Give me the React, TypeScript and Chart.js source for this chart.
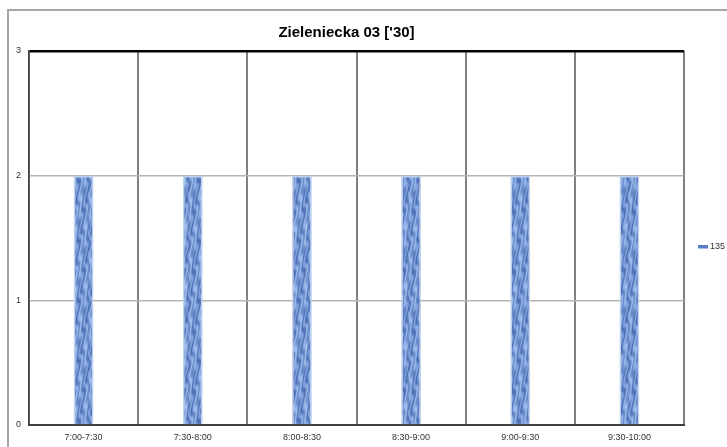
import React, { useEffect, useRef } from "react";
import { Chart, registerables } from "chart.js";

Chart.register(...registerables);

const categories = ["7:00-7:30", "7:30-8:00", "8:00-8:30", "8:30-9:00", "9:00-9:30", "9:30-10:00"];
const seriesLabel = "135";
const seriesValues = [2, 2, 2, 2, 2, 2];
const yTicks = [0, 1, 2, 3];
const chartTitle = "Zieleniecka 03 ['30]";

const FONT = "'Liberation Sans', Arial, sans-serif";

function makePattern(ctx: CanvasRenderingContext2D): CanvasPattern | string {
  const w = 20;
  const h = 60;
  const off = document.createElement("canvas");
  off.width = w;
  off.height = h;
  const octx = off.getContext("2d");
  if (!octx) return "#6b8fd0";
  const img = octx.createImageData(w, h);
  for (let y = 0; y < h; y++) {
    for (let x = 0; x < w; x++) {
      const phase = 1.6 * Math.sin((y * 2 * Math.PI) / 20 + x * 0.7) + 0.8 * Math.sin((y * 2 * Math.PI) / 30);
      const a = Math.sin((x * 2 * Math.PI) / 5 + phase);
      const b = Math.sin((x * 2 * Math.PI) / 10 + (y * 2 * Math.PI) / 60);
      let v = 0.55 + 0.28 * a + 0.15 * b;
      v = Math.max(0, Math.min(1, v));
      const i = (y * w + x) * 4;
      img.data[i] = Math.round(62 + v * 100);
      img.data[i + 1] = Math.round(98 + v * 95);
      img.data[i + 2] = Math.round(172 + v * 68);
      img.data[i + 3] = 255;
    }
  }
  octx.putImageData(img, 0, 0);
  return ctx.createPattern(off, "repeat") || "#6b8fd0";
}

const legendPlugin = {
  id: "sideLegend",
  afterDraw(chart: any) {
    const { ctx, chartArea } = chart;
    const ds = chart.data.datasets[0];
    const cy = (chartArea.top + chartArea.bottom) / 2 + 9;
    const bx = chartArea.right + 14;
    ctx.save();
    ctx.fillStyle = "#5a7cc0";
    ctx.fillRect(bx, cy - 2, 10, 3);
    ctx.fillStyle = "#a5bde8";
    ctx.fillRect(bx, cy + 1, 10, 1);
    ctx.fillStyle = "#333333";
    ctx.font = `9px ${FONT}`;
    ctx.textBaseline = "middle";
    ctx.textAlign = "left";
    ctx.fillText(ds.label, bx + 12, cy);
    ctx.restore();
  },
};

export default function App() {
  const ref = useRef<HTMLCanvasElement | null>(null);

  useEffect(() => {
    const canvas = ref.current;
    if (!canvas) return;
    const ctx = canvas.getContext("2d");
    if (!ctx) return;
    const pattern = makePattern(ctx);
    const chart = new Chart(ctx, {
      type: "bar",
      data: {
        labels: categories,
        datasets: [
          {
            label: seriesLabel,
            data: seriesValues,
            backgroundColor: pattern as any,
            borderColor: "rgba(192,210,242,0.95)",
            borderWidth: 1.5,
            borderSkipped: "bottom",
            categoryPercentage: 1,
            barPercentage: 0.183,
          },
        ],
      },
      options: {
        responsive: false,
        animation: false,
        layout: { padding: { left: 0, right: 43, top: 0, bottom: 0 } },
        plugins: {
          legend: { display: false },
          tooltip: { enabled: false },
          title: {
            display: true,
            text: chartTitle,
            color: "#000000",
            font: { family: FONT, size: 15, weight: "bold" },
            padding: { top: 13, bottom: 9 },
          },
        },
        scales: {
          x: {
            offset: true,
            grid: {
              offset: true,
              drawTicks: false,
              color: (c: any) => (c.index === categories.length ? "#000000" : "#808080"),
              lineWidth: 2,
            },
            border: { color: "#404040", width: 2 },
            ticks: {
              color: "#333333",
              font: { family: FONT, size: 9 },
              padding: 7,
              maxRotation: 0,
            },
            afterFit: (s: any) => {
              s.height = 22;
            },
          },
          y: {
            min: yTicks[0],
            max: yTicks[yTicks.length - 1],
            afterBuildTicks: (s: any) => {
              s.ticks = yTicks.map((v) => ({ value: v }));
            },
            grid: {
              drawTicks: false,
              color: (c: any) => (c.tick && c.tick.value === yTicks[yTicks.length - 1] ? "#000000" : "#b4b4b4"),
              lineWidth: (c: any) => (c.tick && c.tick.value === yTicks[yTicks.length - 1] ? 2.5 : 1.5),
            },
            border: { color: "#404040", width: 1.5 },
            ticks: {
              color: "#333333",
              font: { family: FONT, size: 9 },
              padding: 8,
            },
            afterFit: (s: any) => {
              s.width = 20;
            },
          },
        },
      },
      plugins: [legendPlugin],
    });
    return () => chart.destroy();
  }, []);

  return (
    <>
      <div
        style={{
          position: "fixed",
          left: 7,
          top: 9,
          width: 730,
          height: 450,
          borderLeft: "2px solid #a6a6a6",
          borderTop: "2px solid #a6a6a6",
          boxSizing: "border-box",
          background: "#ffffff",
        }}
      />
      <canvas
        ref={ref}
        width={718}
        height={436}
        style={{ position: "fixed", left: 9, top: 11, width: 718, height: 436 }}
      />
    </>
  );
}
